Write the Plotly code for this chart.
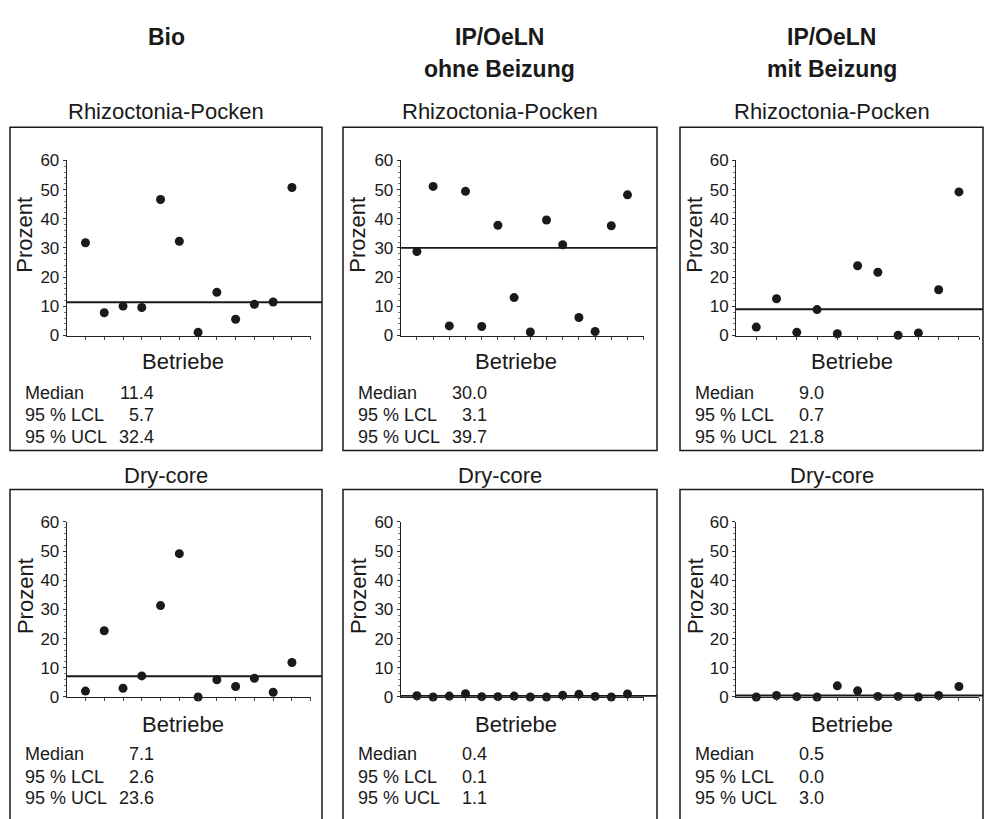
import plotly.graph_objects as go

W, H = 985, 819
FONT = "Liberation Sans, Arial, Helvetica, sans-serif"
INK = "#1a1a1a"

# ---------------- data ----------------
group_title_lines = [["Bio"], ["IP/OeLN", "ohne Beizung"], ["IP/OeLN", "mit Beizung"]]
diseases = ["Rhizoctonia-Pocken", "Dry-core"]
y_ticks = [0, 10, 20, 30, 40, 50, 60]
y_title = "Prozent"
x_title = "Betriebe"
stat_labels = ["Median", "95 % LCL", "95 % UCL"]

bio_rhizo = [31.8, 7.8, 10.1, 9.6, 46.6, 32.3, 1.1, 14.8, 5.6, 10.7, 11.5, 50.7]
ohne_rhizo = [28.8, 51.1, 3.3, 49.4, 3.1, 37.8, 13.0, 1.2, 39.6, 31.1, 6.2, 1.4, 37.6, 48.2]
mit_rhizo = [2.9, 12.6, 1.1, 8.9, 0.6, 23.9, 21.7, 0.1, 0.9, 15.7, 49.2]

bio_dry = [2.0, 22.7, 3.0, 7.2, 31.3, 49.1, 0.0, 5.9, 3.6, 6.4, 1.6, 11.8]
ohne_dry = [0.4, 0.0, 0.3, 1.1, 0.1, 0.1, 0.3, 0.0, 0.0, 0.6, 0.9, 0.2, 0.0, 1.0]
mit_dry = [0.0, 0.5, 0.1, 0.0, 3.8, 2.1, 0.2, 0.2, 0.0, 0.5, 3.6]

rhizo_median = [11.4, 30.0, 9.0]
rhizo_lcl = [5.7, 3.1, 0.7]
rhizo_ucl = [32.4, 39.7, 21.8]
dry_median = [7.1, 0.4, 0.5]
dry_lcl = [2.6, 0.1, 0.0]
dry_ucl = [23.6, 1.1, 3.0]

series = [[bio_rhizo, ohne_rhizo, mit_rhizo], [bio_dry, ohne_dry, mit_dry]]
stats = [[rhizo_median, rhizo_lcl, rhizo_ucl], [dry_median, dry_lcl, dry_ucl]]

# ---------------- layout (pixels) ----------------
box_x = [(10, 322), (343, 657), (680, 983)]
box_y = [(121, 452), (492, 845)]
axis_x0 = [66.7, 400.7, 736.0]
axis_x1 = [310.7, 643.7, 979.2]
axis_y_top = [155.0, 525.0]
axis_y_bot = [334.3, 704.3]
title_y = [29, 61]
sub_y = [105, 478]
ytitle_y = [231, 601]
xtitle_y = [361, 732]
stat_y = [[393, 416, 438], [763, 786, 808]]


def px(x):
    return x / W


def py(y):
    return 1 - y / H


fig = go.Figure()
shapes = []
annotations = []

for r in range(2):
    for c in range(3):
        k = r * 3 + c
        xa = "x" if k == 0 else f"x{k + 1}"
        ya = "y" if k == 0 else f"y{k + 1}"
        xl = "xaxis" if k == 0 else f"xaxis{k + 1}"
        yl = "yaxis" if k == 0 else f"yaxis{k + 1}"
        vals = series[r][c]
        n = len(vals)
        fig.add_trace(go.Scatter(
            x=list(range(1, n + 1)), y=vals, mode="markers",
            marker=dict(size=9, color=INK),
            cliponaxis=False, showlegend=False, hoverinfo="y",
            xaxis=xa, yaxis=ya,
        ))
        fig.update_layout({
            xl: dict(domain=[px(axis_x0[c]), px(axis_x1[c])], range=[0, n + 1],
                     anchor=ya, showgrid=False, zeroline=False, showline=True,
                     linecolor="#222", linewidth=1, ticks="outside", ticklen=3,
                     tickcolor="#444", tickvals=list(range(1, n + 2)),
                     showticklabels=False, fixedrange=True),
            yl: dict(domain=[py(axis_y_bot[r]), py(axis_y_top[r])], range=[0, 60],
                     anchor=xa, showgrid=False, zeroline=False, showline=True,
                     linecolor="#222", linewidth=1, ticks="outside", ticklen=3,
                     tickcolor="#333", tickvals=y_ticks,
                     ticktext=[str(t) for t in y_ticks],
                     tickfont=dict(family=FONT, size=17, color=INK),
                     minor=dict(dtick=2, ticks="outside", ticklen=2, tickcolor="#777"),
                     fixedrange=True),
        })
        # median line
        shapes.append(dict(type="line", xref="paper", yref=ya,
                           x0=px(axis_x0[c]), x1=px(box_x[c][1]),
                           y0=stats[r][0][c], y1=stats[r][0][c],
                           line=dict(color=INK, width=1.8)))
        # panel box
        shapes.append(dict(type="rect", xref="paper", yref="paper",
                           x0=px(box_x[c][0]), x1=px(box_x[c][1]),
                           y0=py(box_y[r][1]), y1=py(box_y[r][0]),
                           line=dict(color=INK, width=1.5)))
        cx = (box_x[c][0] + box_x[c][1]) / 2
        annotations.append(dict(text=diseases[r], x=px(cx), y=py(sub_y[r]),
                                xref="paper", yref="paper", showarrow=False,
                                xanchor="center", yanchor="middle",
                                font=dict(family=FONT, size=22, color=INK)))
        annotations.append(dict(text=y_title, x=px(box_x[c][0] + 15), y=py(ytitle_y[r]),
                                xref="paper", yref="paper", showarrow=False,
                                textangle=-90, xanchor="center", yanchor="middle",
                                font=dict(family=FONT, size=22, color=INK)))
        axc = (axis_x0[c] + axis_x1[c]) / 2 - 6
        annotations.append(dict(text=x_title, x=px(axc), y=py(xtitle_y[r]),
                                xref="paper", yref="paper", showarrow=False,
                                xanchor="center", yanchor="middle",
                                font=dict(family=FONT, size=22, color=INK)))
        for i in range(3):
            annotations.append(dict(text=stat_labels[i], x=px(box_x[c][0] + 13),
                                    y=py(stat_y[r][i]), xref="paper", yref="paper",
                                    showarrow=False, xanchor="left", yanchor="middle",
                                    font=dict(family=FONT, size=18, color=INK)))
            annotations.append(dict(text=f"{stats[r][i][c]:.1f}", x=px(box_x[c][0] + 146),
                                    y=py(stat_y[r][i]), xref="paper", yref="paper",
                                    showarrow=False, xanchor="right", yanchor="middle",
                                    font=dict(family=FONT, size=18, color=INK)))

for c in range(3):
    cx = (box_x[c][0] + box_x[c][1]) / 2
    for j, line in enumerate(group_title_lines[c]):
        annotations.append(dict(text=f"<b>{line}</b>", x=px(cx), y=py(title_y[j]),
                                xref="paper", yref="paper", showarrow=False,
                                xanchor="center", yanchor="middle",
                                font=dict(family=FONT, size=23, color=INK)))

fig.update_layout(width=W, height=H, margin=dict(l=0, r=0, t=0, b=0),
                  paper_bgcolor="white", plot_bgcolor="white",
                  shapes=shapes, annotations=annotations, showlegend=False)

fig.write_html("out.html", config={"displayModeBar": False},
               post_script="document.body.style.margin='0';")
